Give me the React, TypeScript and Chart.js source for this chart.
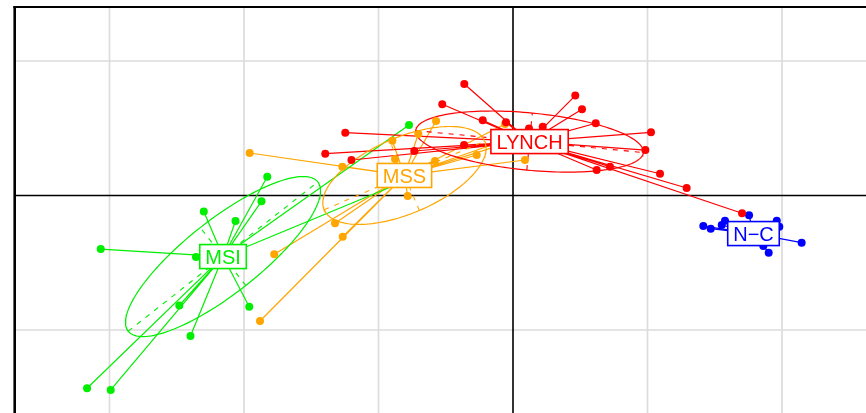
import React, { useEffect, useRef } from "react";
import { Chart, registerables } from "chart.js";
Chart.register(...registerables);

// Classes
const classNames = ["LYNCH", "MSI", "MSS", "N\u2212C"];
const classColors = ["#FF0000", "#00EE00", "#FFA500", "#0000FF"];
const classCenterX = [0.123, -2.156, -0.807, 1.788];
const classCenterY = [0.401, -0.454, 0.149, -0.283];
const ellipseA = [0.85, 0.897, 0.649, 0.19];
const ellipseB = [0.213, 0.274, 0.283, 0.05];
const ellipseAngle = [-5.5, 38.2, 23.1, -12];

// Individuals per class
const lynchX = [-0.362, -0.526, -0.225, -0.052, 0.119, 0.221, 0.463, 0.513, 0.615, 1.026, 0.984, 0.622, 0.721, 1.093, 1.291, 1.703, -0.364, -0.734, -1.247, -1.396, -1.201];
const lynchY = [0.829, 0.678, 0.559, 0.544, 0.499, 0.512, 0.743, 0.641, 0.537, 0.47, 0.338, 0.19, 0.214, 0.162, 0.056, -0.132, 0.375, 0.331, 0.467, 0.311, 0.264];

const msiX = [-0.773, -0.855, -1.827, -1.87, -2.063, -2.299, -3.065, -2.357, -2.481, -1.961, -2.398, -3.167, -2.991];
const msiY = [0.524, 0.086, 0.14, -0.043, -0.19, -0.119, -0.398, -0.457, -0.818, -0.827, -1.045, -1.433, -1.446];

const mssX = [-1.958, -1.269, -0.897, -0.877, -0.704, -0.572, -0.58, -0.27, 0.089, -0.783, -1.323, -1.266, -1.775, -1.881, -0.059, -0.134, -0.097];
const mssY = [0.316, 0.214, 0.407, 0.271, 0.457, 0.554, 0.257, 0.301, 0.264, -0.004, -0.207, -0.306, -0.437, -0.933, 0.532, 0.361, 0.398];

const ncX = [1.415, 1.47, 1.552, 1.576, 1.755, 1.961, 1.98, 2.146, 1.861, 1.901];
const ncY = [-0.227, -0.247, -0.219, -0.187, -0.147, -0.187, -0.232, -0.351, -0.375, -0.425];

const classX = [lynchX, msiX, mssX, ncX];
const classY = [lynchY, msiY, mssY, ncY];
const pointOrder = [2, 2, 2.5, 2];

// Axes
const xGrid = [-3, -2, -1, 0, 1, 2];
const yGrid = [-1, 0, 1];
const xMin = -3.7026;
const xMax = 2.6245;
const yMin = -1.6171;
const yMax = 1.4015;

type P = { x: number; y: number };
const GAP: P = { x: NaN, y: NaN };

function ellipsePts(i: number): P[] {
  const a = ellipseA[i], b = ellipseB[i];
  const t = (ellipseAngle[i] * Math.PI) / 180;
  const cx = classCenterX[i], cy = classCenterY[i];
  const pts: P[] = [];
  const n = 160;
  for (let k = 0; k <= n; k++) {
    const u = (2 * Math.PI * k) / n;
    const ex = a * Math.cos(u), ey = b * Math.sin(u);
    pts.push({ x: cx + ex * Math.cos(t) - ey * Math.sin(t), y: cy + ex * Math.sin(t) + ey * Math.cos(t) });
  }
  return pts;
}

function axesPts(i: number): P[] {
  const a = ellipseA[i], b = ellipseB[i];
  const t = (ellipseAngle[i] * Math.PI) / 180;
  const cx = classCenterX[i], cy = classCenterY[i];
  return [
    { x: cx - a * Math.cos(t), y: cy - a * Math.sin(t) },
    { x: cx + a * Math.cos(t), y: cy + a * Math.sin(t) },
    GAP,
    { x: cx + b * Math.sin(t), y: cy - b * Math.cos(t) },
    { x: cx - b * Math.sin(t), y: cy + b * Math.cos(t) },
  ];
}

function starPts(i: number): P[] {
  const out: P[] = [];
  classX[i].forEach((v, k) => {
    out.push({ x: v, y: classY[i][k] });
    out.push({ x: classCenterX[i], y: classCenterY[i] });
    out.push(GAP);
  });
  return out;
}

const framePlugin = {
  id: "frame",
  beforeDatasetsDraw(chart: any) {
    const { ctx, chartArea, scales } = chart;
    ctx.save();
    // grid
    ctx.strokeStyle = "#dcdcdc";
    ctx.lineWidth = 1.7;
    ctx.beginPath();
    xGrid.forEach((v) => {
      if (v === 0) return;
      const px = scales.x.getPixelForValue(v);
      ctx.moveTo(px, chartArea.top);
      ctx.lineTo(px, chartArea.bottom);
    });
    yGrid.forEach((v) => {
      if (v === 0) return;
      const py = scales.y.getPixelForValue(v);
      ctx.moveTo(chartArea.left, py);
      ctx.lineTo(chartArea.right, py);
    });
    ctx.stroke();
    // zero axes
    ctx.strokeStyle = "#000";
    ctx.lineWidth = 1.6;
    const x0 = scales.x.getPixelForValue(0);
    const y0 = scales.y.getPixelForValue(0);
    ctx.beginPath();
    ctx.moveTo(x0, chartArea.top);
    ctx.lineTo(x0, chartArea.bottom);
    ctx.moveTo(chartArea.left, y0);
    ctx.lineTo(chartArea.right, y0);
    ctx.stroke();
    ctx.restore();
  },
  afterDatasetsDraw(chart: any) {
    const { ctx, chartArea, scales } = chart;
    ctx.save();
    ctx.font = '20px "Liberation Sans", Arial, sans-serif';
    classNames.forEach((name, i) => {
      const cx = scales.x.getPixelForValue(classCenterX[i]);
      const cy = scales.y.getPixelForValue(classCenterY[i]);
      const w = ctx.measureText(name).width + 11;
      const h = 24;
      ctx.fillStyle = "#fff";
      ctx.fillRect(cx - w / 2, cy - h / 2, w, h);
      ctx.strokeStyle = classColors[i];
      ctx.lineWidth = 1.6;
      ctx.strokeRect(cx - w / 2, cy - h / 2, w, h);
      ctx.fillStyle = classColors[i];
      ctx.textAlign = "center";
      ctx.textBaseline = "alphabetic";
      ctx.fillText(name, cx, cy + 7.3);
    });
    // frame (left and top)
    ctx.strokeStyle = "#000";
    ctx.lineWidth = 2.6;
    ctx.beginPath();
    ctx.moveTo(chartArea.left - 0.3, chartArea.bottom);
    ctx.lineTo(chartArea.left - 0.3, chartArea.top - 1);
    ctx.stroke();
    ctx.lineWidth = 2;
    ctx.beginPath();
    ctx.moveTo(chartArea.left - 1.6, chartArea.top);
    ctx.lineTo(chartArea.right, chartArea.top);
    ctx.stroke();
    ctx.restore();
  },
};

export default function App() {
  const ref = useRef<HTMLCanvasElement | null>(null);
  useEffect(() => {
    document.body.style.margin = "0";
    const datasets: any[] = [];
    classNames.forEach((_, i) => {
      datasets.push({
        data: starPts(i),
        showLine: true,
        borderColor: classColors[i],
        borderWidth: 1.2,
        pointRadius: 0,
        spanGaps: false,
        order: 6,
      });
      datasets.push({
        data: axesPts(i),
        showLine: true,
        borderColor: classColors[i],
        borderWidth: 1.1,
        borderDash: [5, 6],
        pointRadius: 0,
        spanGaps: false,
        order: 5,
      });
      datasets.push({
        data: ellipsePts(i),
        showLine: true,
        borderColor: classColors[i],
        borderWidth: 1.2,
        pointRadius: 0,
        order: 4,
      });
      datasets.push({
        data: classX[i].map((v, k) => ({ x: v, y: classY[i][k] })),
        showLine: false,
        backgroundColor: classColors[i],
        borderWidth: 0,
        pointRadius: 4,
        order: pointOrder[i],
      });
    });
    const chart = new Chart(ref.current as HTMLCanvasElement, {
      type: "scatter",
      data: { datasets },
      options: {
        animation: false,
        responsive: false,
        maintainAspectRatio: false,
        layout: { autoPadding: false, padding: { left: 15, top: 7, right: 0, bottom: 0 } },
        plugins: { legend: { display: false }, tooltip: { enabled: false } },
        scales: {
          x: { type: "linear", min: xMin, max: xMax, display: false },
          y: { type: "linear", min: yMin, max: yMax, display: false },
        },
      },
      plugins: [framePlugin],
    });
    return () => chart.destroy();
  }, []);
  return (
    <div style={{ width: 866, height: 413, background: "#fff" }}>
      <canvas ref={ref} width={866} height={413} style={{ display: "block" }} />
    </div>
  );
}
